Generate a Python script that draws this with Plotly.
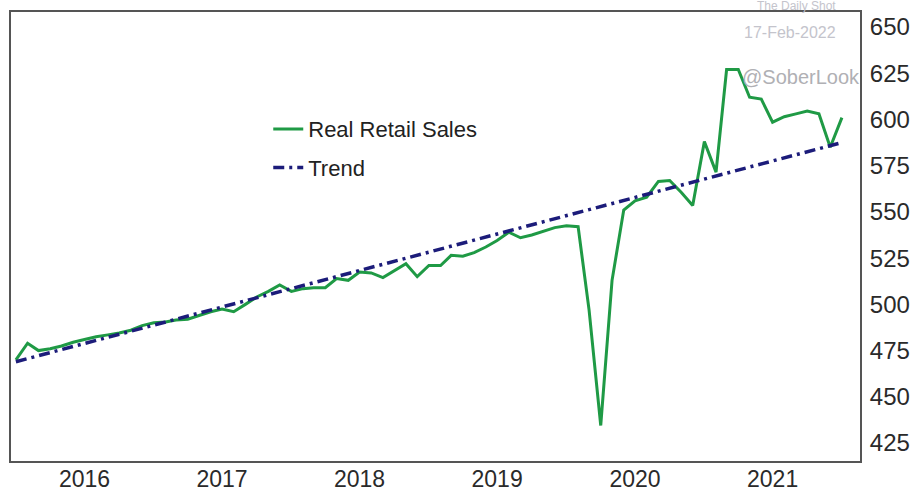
import pandas as pd
import plotly.graph_objects as go

# Monthly real retail sales, Jan 2016 - Jan 2022
months = pd.date_range("2016-01-01", "2022-01-01", freq="MS")
retail_sales = [
    470.0, 479.0, 475.0, 476.0, 477.5, 479.5, 481.0, 482.5, 483.5, 484.5, 486.0, 488.5,  # 2016
    490.0, 490.5, 491.5, 492.0, 494.0, 496.0, 497.5, 496.0, 500.0, 504.0, 507.0, 510.5,  # 2017
    507.0, 508.5, 509.0, 509.0, 514.0, 513.0, 517.5, 517.0, 514.5, 518.0, 522.0, 515.0,  # 2018
    521.0, 521.0, 526.5, 526.0, 528.0, 531.0, 534.5, 539.0, 536.0, 537.5, 539.5, 541.5,  # 2019
    542.5, 542.0, 497.0, 434.5, 513.0, 551.0, 556.0, 558.0, 566.5, 567.0, 560.5, 553.5,  # 2020
    588.0, 571.5, 627.0, 627.0, 612.0, 611.0, 598.5, 601.5, 603.0, 604.5, 603.0, 585.0,  # 2021
    601.0,                                                                              # 2022
]

# Linear trend endpoints
trend_dates = ["2016-01-01", "2022-01-01"]
trend_values = [469.0, 587.5]

# Axis ticks
year_tick_dates = ["2016-07-01", "2017-07-01", "2018-07-01", "2019-07-01", "2020-07-01", "2021-07-01"]
year_tick_labels = ["2016", "2017", "2018", "2019", "2020", "2021"]
value_ticks = [425, 450, 475, 500, 525, 550, 575, 600, 625, 650]

FONT = "Liberation Sans, Arial, sans-serif"

fig = go.Figure()
fig.add_trace(go.Scatter(
    x=months, y=retail_sales, mode="lines", name="Real Retail Sales",
    line=dict(color="#1f9a45", width=3), legendgroup="a",
))
fig.add_trace(go.Scatter(
    x=trend_dates, y=trend_values, mode="lines", name="Trend",
    line=dict(color="#1c1c7a", width=3.5, dash="11px,5px,3px,5px"), legendgroup="b",
))

fig.update_layout(
    width=923, height=492,
    margin=dict(l=11, r=63, t=12, b=31),
    paper_bgcolor="white", plot_bgcolor="white",
    font=dict(family=FONT, color="#2a2a2a"),
    showlegend=True,
    legend=dict(
        x=0.303, y=0.786, xanchor="left", yanchor="top",
        bgcolor="rgba(0,0,0,0)", font=dict(size=22, color="#222222"),
        tracegroupgap=7,
    ),
    xaxis=dict(
        range=["2015-12-19", "2022-02-18"],
        tickvals=year_tick_dates, ticktext=year_tick_labels,
        showgrid=False, zeroline=False, ticks="",
        showline=True, mirror=True, linecolor="#555555", linewidth=2,
        tickfont=dict(size=23, color="#2a2a2a"),
        ticklabelstandoff=-4, automargin=False,
    ),
    yaxis=dict(
        side="right", range=[415.3, 658.1],
        tickvals=value_ticks,
        showgrid=False, zeroline=False, ticks="",
        showline=True, mirror=True, linecolor="#555555", linewidth=2,
        tickfont=dict(size=24, color="#2a2a2a"),
        ticklabelstandoff=3, automargin=False,
    ),
)

# Source / date / handle notes in the top-right corner
fig.add_annotation(
    xref="paper", yref="paper", x=0.974, y=1.0, xanchor="right", yanchor="middle",
    yshift=6, text="The Daily Shot", showarrow=False,
    font=dict(family=FONT, size=12, color="#c4c4cc"),
)
fig.add_annotation(
    xref="paper", yref="paper", x=0.974, y=1.0, xanchor="right", yanchor="middle",
    yshift=-20, text="17-Feb-2022", showarrow=False,
    font=dict(family=FONT, size=16, color="#c4c4cc"),
)
fig.add_annotation(
    xref="paper", yref="paper", x=1.002, y=1.0, xanchor="right", yanchor="middle",
    yshift=-65, text="@SoberLook", showarrow=False,
    font=dict(family=FONT, size=20, color="#b0b0b4"),
)

fig.write_html("out.html")
